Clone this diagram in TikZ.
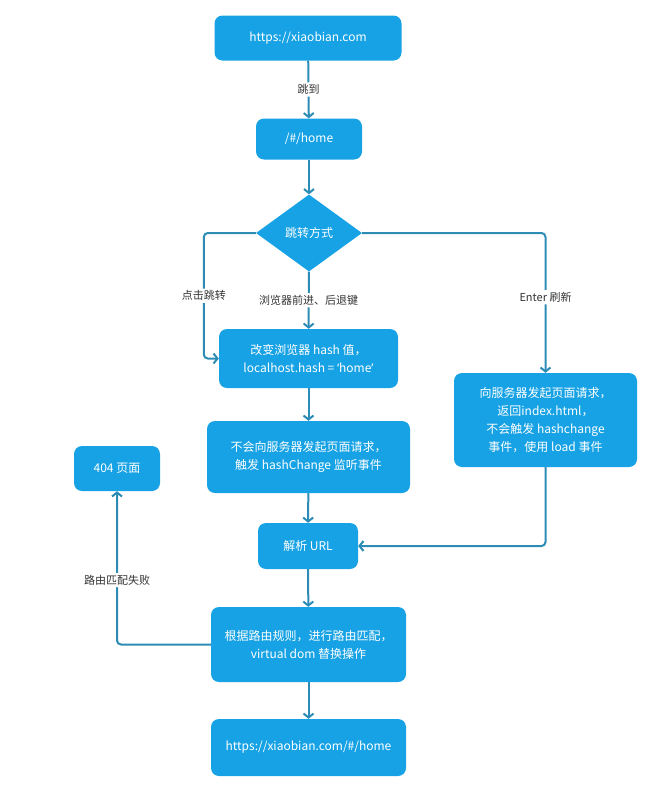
\documentclass[tikz,border=0pt]{standalone}
\usepackage{fontspec}
\setmainfont{Noto Sans CJK SC}
\newfontfamily\quotefont{Noto Sans}
\usetikzlibrary{shapes.geometric,arrows.meta}
\usepackage{xcolor}
\definecolor{boxblue}{HTML}{16A2E4}
\definecolor{lineblue}{HTML}{2C8CB6}

\tikzset{
  stepbox/.style={rectangle, rounded corners=8pt, fill=boxblue, text=white,
    font=\fontsize{12}{18}\selectfont, align=center, inner sep=0pt},
  choice/.style={diamond, fill=boxblue, text=white, aspect=1.38,
    font=\fontsize{12}{18}\selectfont, inner sep=0pt},
  flow/.style={draw=lineblue, line width=2pt, rounded corners=4pt,
    -{Straight Barb[length=4pt,width=10pt]}},
  edgelabel/.style={fill=white, text=black!80, font=\fontsize{11}{13}\selectfont, inner sep=2pt},
}

\begin{document}
\begin{tikzpicture}[x=1pt,y=-1pt]
  \useasboundingbox (0,0) rectangle (664,785);
  % main column
  \node[stepbox, minimum width=187pt, minimum height=45pt] (start) at (308,38) {https://xiaobian.com};
  \node[stepbox, minimum width=106pt, minimum height=41pt] (home) at (309,139) {/\#/home};
  \node[choice, minimum width=106pt, minimum height=77pt] (choice) at (309,233) {跳转方式};
  \node[stepbox, minimum width=179pt, minimum height=59pt] (change) at (308.5,358.5)
    {改变浏览器 hash 值，\\localhost.hash = {\quotefont ‘}home{\quotefont ’}};
  \node[stepbox, minimum width=203pt, minimum height=72pt] (nosrv) at (308.5,457)
    {不会向服务器发起页面请求，\\触发 hashChange 监听事件};
  \node[stepbox, minimum width=183pt, minimum height=94pt] (srv) at (545.5,420)
    {向服务器发起页面请求，\\返回index.html，\\不会触发 hashchange\\事件，使用 load 事件};
  \node[stepbox, minimum width=100pt, minimum height=46pt] (parse) at (308,546) {解析 URL};
  \node[stepbox, minimum width=86pt, minimum height=45pt] (notfound) at (117,468.5) {404 页面};
  \node[stepbox, minimum width=195pt, minimum height=75pt] (match) at (308.5,644.5)
    {根据路由规则，进行路由匹配，\\virtual dom 替换操作};
  \node[stepbox, minimum width=195pt, minimum height=57pt] (final) at (308.5,747.5)
    {https://xiaobian.com/\#/home};

  % connectors
  \draw[flow] (start) -- node[edgelabel] {跳到} (home);
  \draw[flow] (home) -- (choice);
  \draw[flow] (choice.west) -| node[edgelabel, pos=0.75] {点击跳转}
    ([xshift=-15pt]change.west) -- (change.west);
  \draw[flow] (choice) -- node[edgelabel] {浏览器前进、后退键} (change);
  \draw[flow] (choice.east) -| node[edgelabel, pos=0.73] {Enter 刷新} (srv);
  \draw[flow] (change) -- (nosrv);
  \draw[flow] (nosrv) -- (parse);
  \draw[flow] (srv) |- (parse);
  \draw[flow] (parse) -- (match);
  \draw[flow] (match) -- (final);
  \draw[flow] (match.west) -| node[edgelabel, pos=0.71] {路由匹配失败} (notfound);
\end{tikzpicture}
\end{document}
